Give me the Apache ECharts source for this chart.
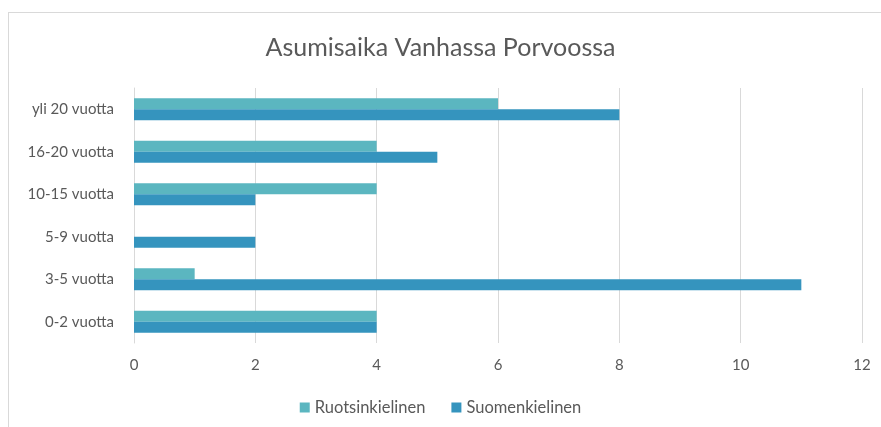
<!DOCTYPE html>
<html>
<head>
<meta charset="utf-8">
<script src="https://cdn.jsdelivr.net/npm/echarts@6/dist/echarts.min.js"></script>
<style>
  html, body { margin: 0; padding: 0; background: #fff; }
  #frame {
    position: absolute; left: 8px; top: 12px; right: -2px; bottom: -2px;
    border: 1px solid #d9d9d9;
  }
  #chart { position: absolute; left: 0; top: 0; width: 881px; height: 427px; }
</style>
</head>
<body>
<div id="frame"></div>
<div id="chart"></div>
<script>
  // aineisto
  const categories = ['0-2 vuotta', '3-5 vuotta', '5-9 vuotta', '10-15 vuotta', '16-20 vuotta', 'yli 20 vuotta']
  const ruotsinkielinen = [4, 1, 0, 4, 4, 6]
  const suomenkielinen = [4, 11, 2, 2, 5, 8]
  const xTicks = { min: 0, max: 12, interval: 2 }

  const font = 'Lato, "Open Sans", sans-serif'
  const chart = echarts.init(document.getElementById('chart'))
  chart.setOption({
    animation: false,
    title: {
      text: 'Asumisaika Vanhassa Porvoossa',
      left: 'center',
      top: 30,
      textStyle: { fontFamily: font, fontSize: 25, fontWeight: 'normal', color: '#595959' }
    },
    legend: {
      bottom: 6,
      left: 'center',
      itemWidth: 10,
      itemHeight: 10,
      itemGap: 26,
      icon: 'rect',
      textStyle: { fontFamily: font, fontSize: 16.5, color: '#595959' },
      data: ['Ruotsinkielinen', 'Suomenkielinen']
    },
    grid: { left: 134, right: 19, top: 88, bottom: 84 },
    xAxis: {
      type: 'value',
      min: xTicks.min,
      max: xTicks.max,
      interval: xTicks.interval,
      axisLine: { show: false },
      axisTick: { show: false },
      axisLabel: { fontFamily: font, fontSize: 15, color: '#595959', margin: 15 },
      splitLine: { lineStyle: { color: '#d9d9d9', width: 1 } }
    },
    yAxis: {
      type: 'category',
      data: categories,
      axisLine: { show: true, lineStyle: { color: '#d9d9d9' } },
      axisTick: { show: false },
      axisLabel: { fontFamily: font, fontSize: 15, color: '#595959', margin: 20 }
    },
    series: [
      {
        name: 'Ruotsinkielinen',
        type: 'bar',
        data: ruotsinkielinen,
        barWidth: 11,
        barGap: '0%',
        itemStyle: { color: '#5bb6c0' }
      },
      {
        name: 'Suomenkielinen',
        type: 'bar',
        data: suomenkielinen,
        barWidth: 11,
        barGap: '0%',
        itemStyle: { color: '#3594be' }
      }
    ]
  })
</script>
</body>
</html>
